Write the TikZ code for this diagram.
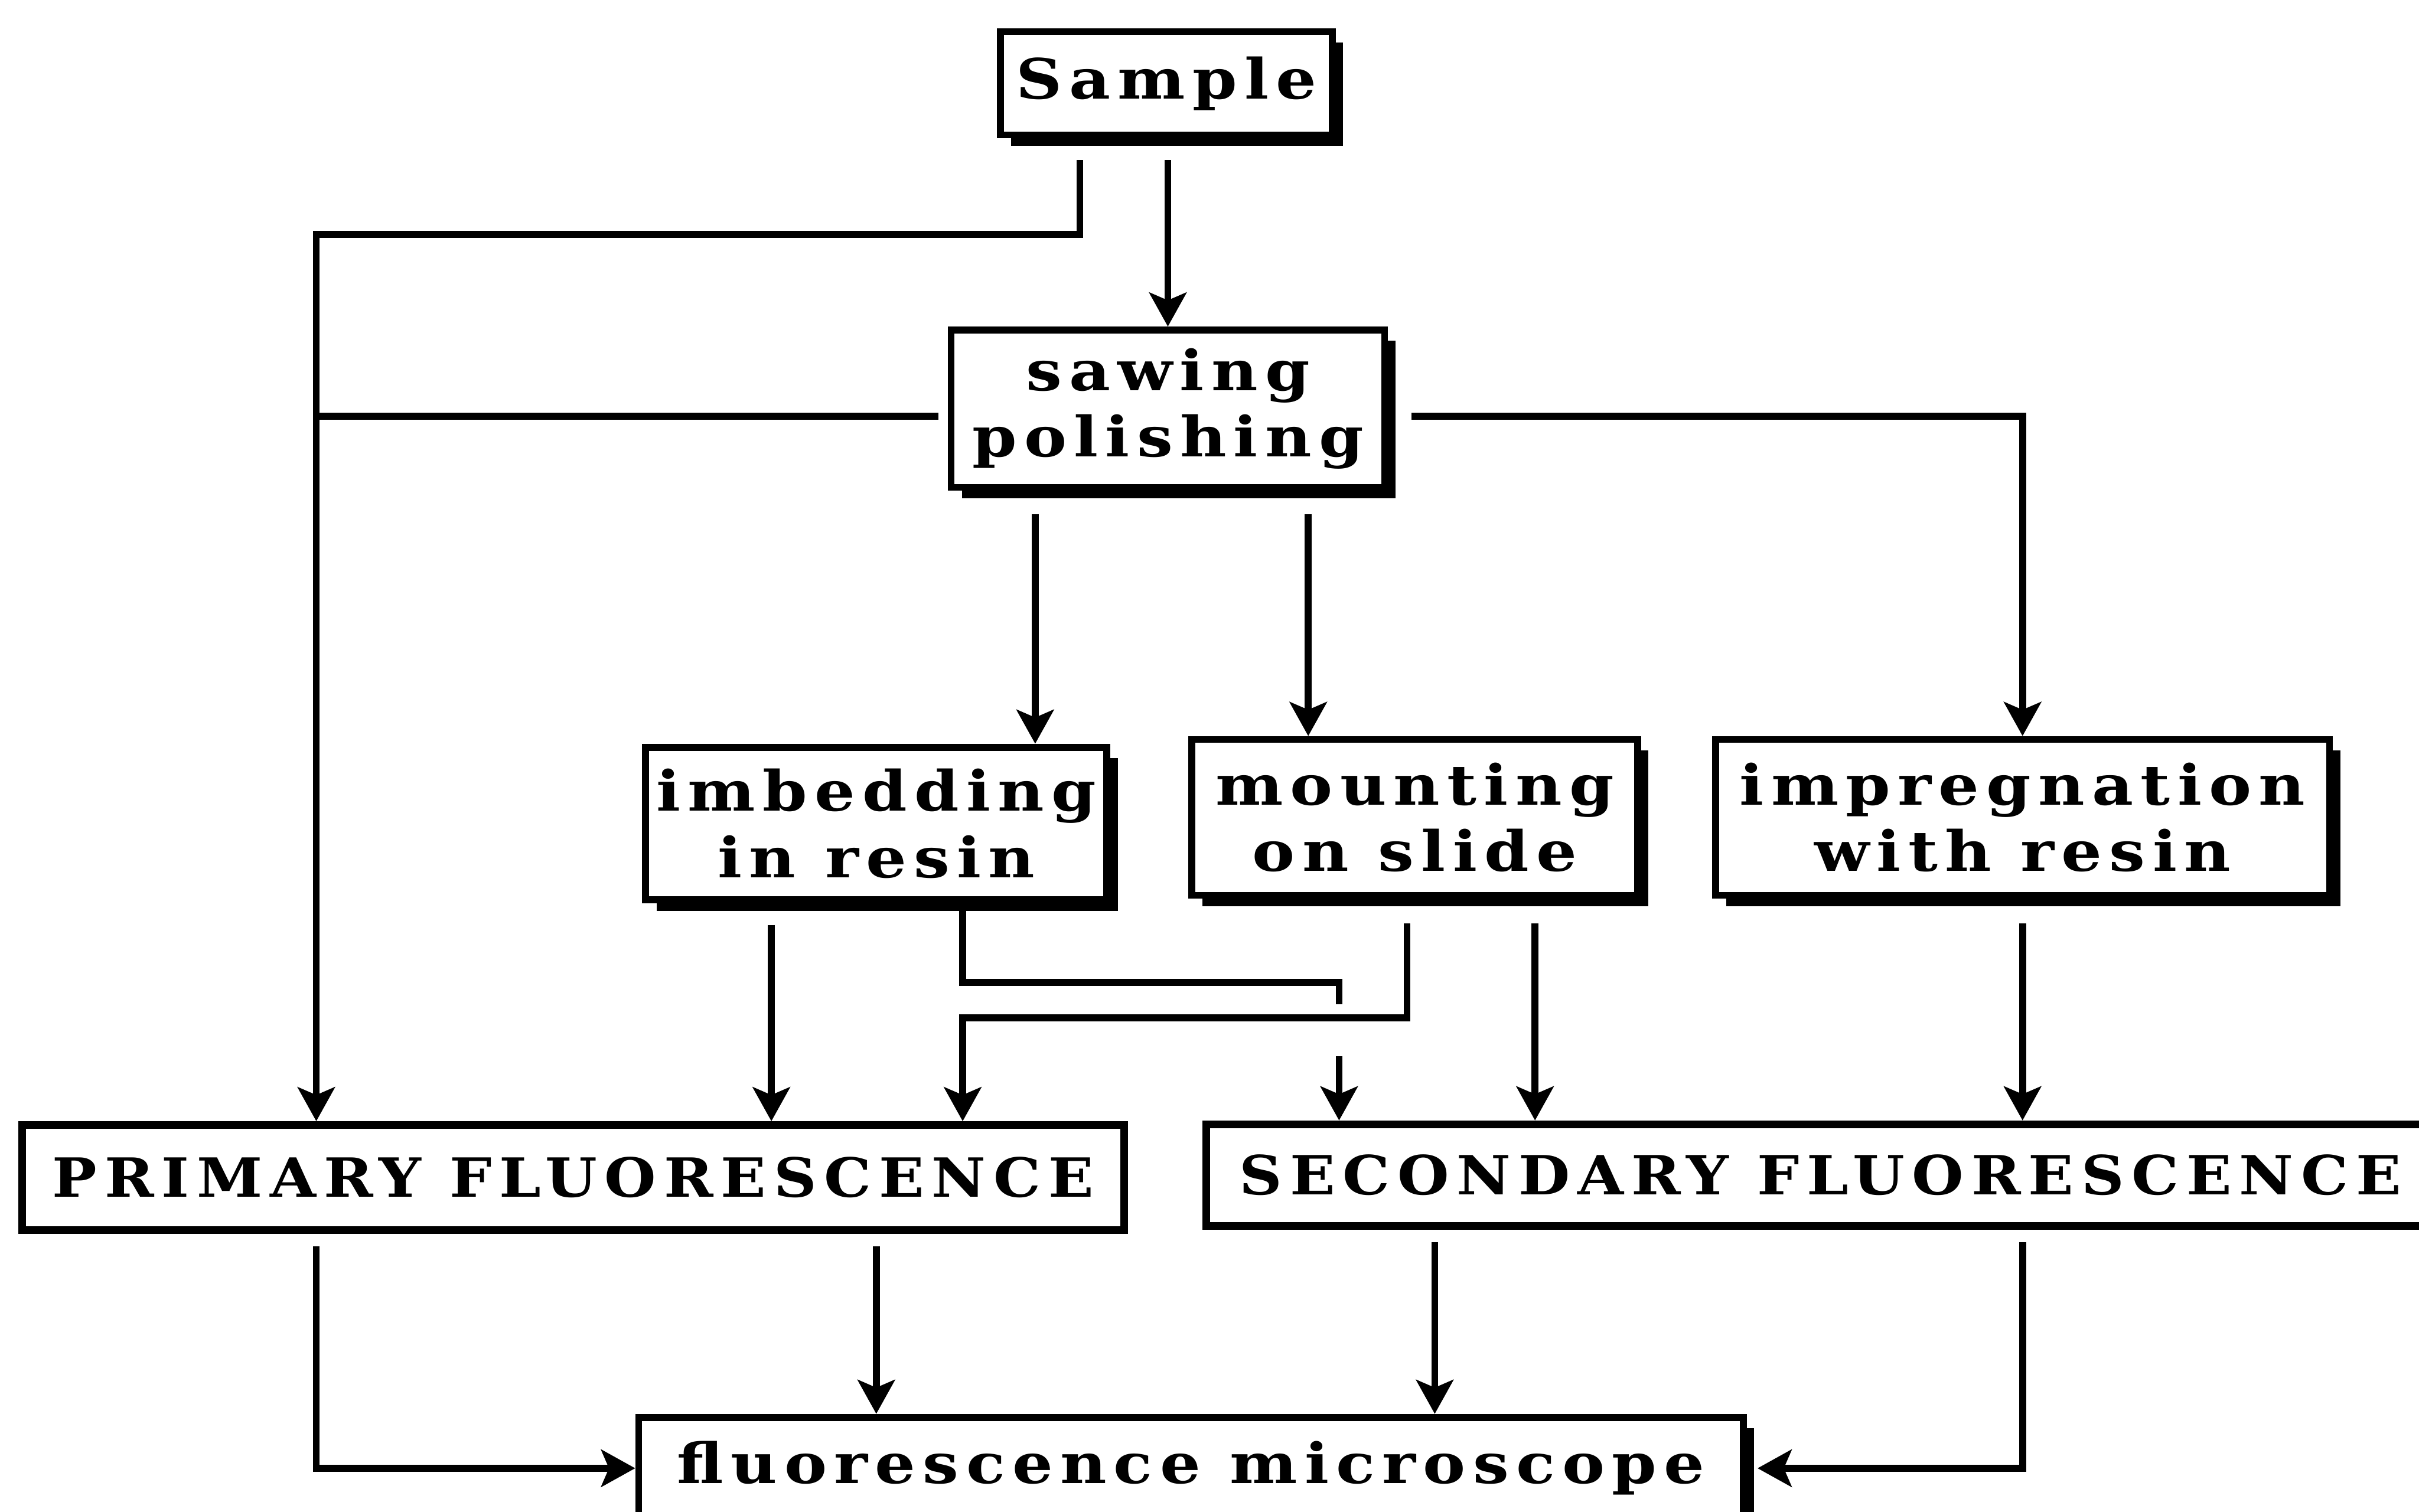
\documentclass[tikz,border=0pt]{standalone}
\usepackage{fontspec}
\newfontfamily\boxfont{DejaVu Serif}[LetterSpace=13,FakeStretch=1.15]
\newfontfamily\capfont{DejaVu Serif}[LetterSpace=14,FakeStretch=1.1]
\usetikzlibrary{arrows.meta,shadows}

\begin{document}
\begin{tikzpicture}[x=1pt,y=-1pt,
  box/.style={draw, line width=4.5pt, fill=white, inner sep=0pt, align=center,
    font=\boxfont\bfseries\fontsize{36}{43}\selectfont, text=black},
  sbox/.style={box, drop shadow={shadow xshift=7pt, shadow yshift=-7pt, fill=black, opacity=1}},
  capbox/.style={box, line width=5pt, font=\capfont\bfseries\fontsize{35}{42}\selectfont},
  conn/.style={line width=4.5pt, line cap=butt},
  arr/.style={conn, -{Stealth[length=22pt,width=24pt,inset=5pt]}},
]
\useasboundingbox (0,0) rectangle (1568,980);
\clip (0,0) rectangle (1568,980);

\node[sbox, minimum width=215pt, minimum height=67pt] (sample) at (756,54) {Sample};
\node[sbox, minimum width=281pt, minimum height=102pt] (saw) at (757,265) {sawing\\polishing};
\node[sbox, minimum width=299pt, minimum height=99pt] (imb) at (568,534) {imbedding\\in resin};
\node[sbox, minimum width=289pt, minimum height=101pt] (mnt) at (917,530) {mounting\\on slide};
\node[sbox, minimum width=398pt, minimum height=101pt] (imp) at (1311,530) {impregnation\\with resin};
\node[capbox, minimum width=714pt, minimum height=68pt] (prim) at (371.5,763.5) {PRIMARY FLUORESCENCE};
\node[capbox, minimum width=816pt, minimum height=66pt] (sec) at (1190,762) {SECONDARY FLUORESCENCE\hspace*{20pt}};
\node[sbox, minimum width=716pt, minimum height=66pt] (mic) at (772,952) {fluorescence microscope};

\coordinate (lx) at (205,152);
\coordinate (c1) at (868,637);
\coordinate (c2) at (868,651);
\coordinate (c3) at (868,671);
\coordinate (c4) at (624,660);

\draw[arr, shorten <=14pt] (sample.south -| 700,0) |- (lx) -- (prim.north -| lx);
\draw[arr, shorten <=14pt] (sample.south -| saw.north) -- (saw.north);
\draw[conn, shorten <=6pt] ([yshift=-5pt]saw.west) -- ([yshift=-5pt]saw.west -| lx);
\draw[arr, shorten <=15pt] ([yshift=-5pt]saw.east) -| (imp.north);
\draw[arr, shorten <=15pt] (saw.south -| 671,0) -- (imb.north -| 671,0);
\draw[arr, shorten <=15pt] (saw.south -| 848,0) -- (mnt.north -| 848,0);
\draw[arr, shorten <=14pt] (imb.south -| 500,0) -- (prim.north -| 500,0);
\draw[arr, shorten <=14pt] (imb.south -| 624,0) |- (c1) -- (c2) (c3) -- (sec.north -| c3);
\draw[arr, shorten <=16pt] (mnt.south -| 912,0) |- (c4) -- (prim.north -| c4);
\draw[arr, shorten <=16pt] (mnt.south -| 995,0) -- (sec.north -| 995,0);
\draw[arr, shorten <=16pt] (imp.south) -- (sec.north -| imp.south);
\draw[arr, shorten <=8pt] (prim.south -| lx) |- (mic.west);
\draw[arr, shorten <=8pt] (prim.south -| 568,0) -- (mic.north -| 568,0);
\draw[arr, shorten <=8pt] (sec.south -| 930,0) -- (mic.north -| 930,0);
\draw[arr, shorten <=8pt, shorten >=7pt] (sec.south -| imp.south) |- (mic.east);
\end{tikzpicture}
\end{document}
